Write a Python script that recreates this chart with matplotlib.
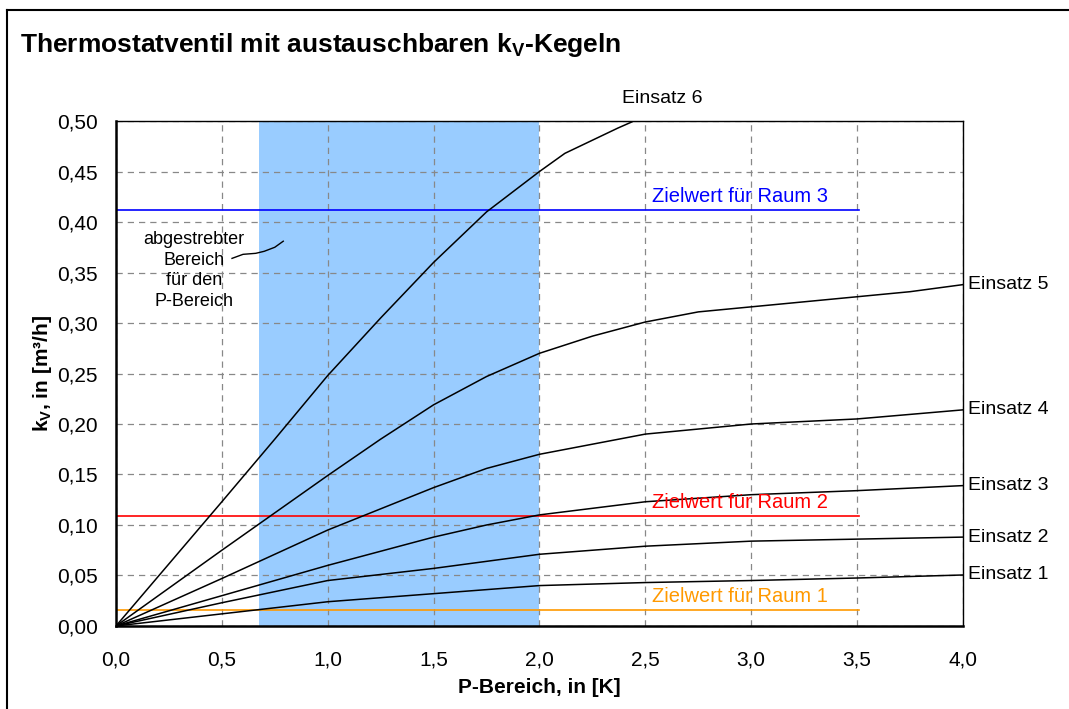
import numpy as np
import matplotlib
matplotlib.use('Agg')
import matplotlib.pyplot as plt
from matplotlib.lines import Line2D

plt.rcParams['font.family'] = ['Liberation Sans', 'DejaVu Sans']

# Kennlinien der Einsätze (P-Bereich in K, kv in m³/h)
x1 = [0.0, 0.5, 1.0, 1.5, 2.0, 2.5, 3.0, 3.5, 4.0]
kv1 = [0.0, 0.012, 0.024, 0.032, 0.040, 0.043, 0.045, 0.0475, 0.0505]
x2 = [0.0, 0.5, 1.0, 1.5, 1.75, 2.0, 2.5, 3.0, 3.5, 4.0]
kv2 = [0.0, 0.023, 0.045, 0.057, 0.064, 0.071, 0.079, 0.084, 0.086, 0.088]
x3 = [0.0, 0.5, 1.0, 1.25, 1.5, 1.75, 2.0, 2.5, 3.0, 3.5, 4.0]
kv3 = [0.0, 0.030, 0.060, 0.074, 0.088, 0.100, 0.110, 0.123, 0.130, 0.134, 0.139]
x4 = [0.0, 0.5, 1.0, 1.25, 1.5, 1.75, 2.0, 2.5, 3.0, 3.5, 4.0]
kv4 = [0.0, 0.047, 0.095, 0.116, 0.137, 0.156, 0.170, 0.190, 0.200, 0.205, 0.214]
x5 = [0.0, 0.5, 1.0, 1.25, 1.5, 1.75, 2.0, 2.25, 2.5, 2.75, 3.0, 3.5, 3.75, 4.0]
kv5 = [0.0, 0.075, 0.149, 0.185, 0.219, 0.247, 0.270, 0.287, 0.301, 0.311, 0.316, 0.326, 0.331, 0.338]
x6 = [0.0, 0.5, 0.75, 1.0, 1.25, 1.5, 1.75, 2.0, 2.12, 2.37, 2.5]
kv6 = [0.0, 0.123, 0.185, 0.248, 0.305, 0.36, 0.41, 0.45, 0.468, 0.493, 0.505]

kurven = [(x1, kv1, 'Einsatz 1'), (x2, kv2, 'Einsatz 2'), (x3, kv3, 'Einsatz 3'),
          (x4, kv4, 'Einsatz 4'), (x5, kv5, 'Einsatz 5'), (x6, kv6, 'Einsatz 6')]

# Zielwerte der Räume
zielwerte = [0.016, 0.109, 0.412]
ziel_namen = ['Zielwert für Raum 1', 'Zielwert für Raum 2', 'Zielwert für Raum 3']
ziel_farben = ['#FF9900', '#FF0000', '#0000FF']

# abgestrebter Bereich
bereich = (0.675, 2.0)

fig = plt.figure(figsize=(10.69, 7.09), dpi=100)
ax = fig.add_axes([0.1085, 0.1171, 0.7923, 0.7122])

ax.axvspan(bereich[0], bereich[1], color='#99CCFF', zorder=0, lw=0)

for x, kv, name in kurven:
    ax.plot(x, kv, color='black', lw=1.1, zorder=3, clip_on=True)

for y, name, farbe in zip(zielwerte, ziel_namen, ziel_farben):
    ax.plot([0.0, 3.51], [y, y], color=farbe, lw=1.2, zorder=2)
    ax.text(2.53, y + 0.004, name, color=farbe, fontsize=14.5, va='bottom', ha='left')

# Beschriftung der Kurven rechts
for x, kv, name in kurven[:5]:
    ax.text(4.025, kv[-1], name, fontsize=14, va='center', ha='left', clip_on=False)
ax.text(2.58, 0.514, 'Einsatz 6', fontsize=14, va='bottom', ha='center', clip_on=False)

# Notiz
ax.text(0.368, 0.352, 'abgestrebter\nBereich\nfür den\nP-Bereich', fontsize=13,
        ha='center', va='center', linespacing=1.3)
ax.plot([0.548, 0.60, 0.66, 0.70, 0.75, 0.79], [0.364, 0.368, 0.369, 0.371, 0.375, 0.381],
        color='black', lw=1.0, zorder=4)

ax.set_xlim(0, 4.0)
ax.set_ylim(0, 0.5)
ax.set_xticks(np.arange(0, 4.01, 0.5))
ax.set_yticks(np.arange(0, 0.501, 0.05))
ax.set_xticklabels([f'{v:.1f}'.replace('.', ',') for v in np.arange(0, 4.01, 0.5)], fontsize=15)
ax.set_yticklabels([f'{v:.2f}'.replace('.', ',') for v in np.arange(0, 0.501, 0.05)], fontsize=15)
ax.tick_params(axis='x', length=0, pad=18)
ax.tick_params(axis='y', length=0, pad=13)
ax.grid(True, color='#888888', linestyle=(0, (5, 4)), lw=0.9, zorder=1)
ax.set_axisbelow(True)

for s in ['left', 'bottom']:
    ax.spines[s].set_linewidth(1.8)
for s in ['top', 'right']:
    ax.spines[s].set_linewidth(1.0)

ax.set_xlabel('P-Bereich, in [K]', fontsize=15, fontweight='bold', labelpad=6)
ax.set_ylabel('k$_\\mathregular{V}$, in [m³/h]', fontsize=15, fontweight='bold', labelpad=2)

fig.text(0.019, 0.937, 'Thermostatventil mit austauschbaren k$_\\mathregular{V}$-Kegeln',
         fontsize=19, fontweight='bold', va='center', ha='left')

# Rahmen
fig.add_artist(Line2D([0.0068, 0.0068], [0.0, 0.986], color='black', lw=1.5, transform=fig.transFigure))
fig.add_artist(Line2D([0.0068, 1.0], [0.986, 0.986], color='black', lw=1.5, transform=fig.transFigure))

fig.savefig('out.png', dpi=100)
